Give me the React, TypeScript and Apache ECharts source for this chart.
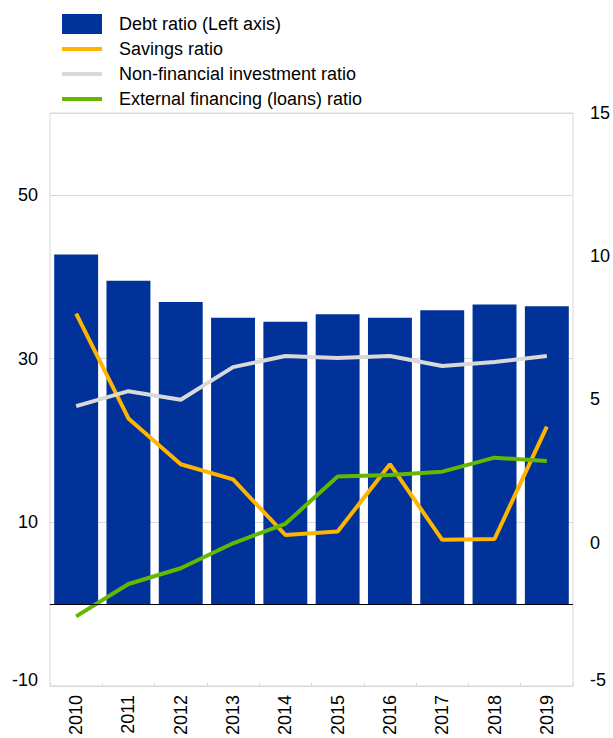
import React, { useEffect, useRef } from "react";
import * as echarts from "echarts";

const years = ["2010", "2011", "2012", "2013", "2014", "2015", "2016", "2017", "2018", "2019"];
const debtRatio = [42.7, 39.5, 36.9, 35.0, 34.5, 35.4, 35.0, 35.9, 36.6, 36.4];
const savingsRatio = [8.0, 4.34, 2.74, 2.21, 0.27, 0.39, 2.74, 0.1, 0.13, 4.05];
const investmentRatio = [4.77, 5.29, 4.99, 6.13, 6.52, 6.45, 6.52, 6.17, 6.31, 6.52];
const externalFinancing = [-2.57, -1.44, -0.89, -0.02, 0.66, 2.31, 2.36, 2.48, 2.97, 2.85];

const FONT = "'Liberation Sans', Arial, sans-serif";
const BLUE = "#003299";
const ORANGE = "#ffb400";
const GREY = "#d9d9d9";
const GREEN = "#65b800";

export default function App() {
  const ref = useRef<HTMLDivElement>(null);
  useEffect(() => {
    document.body.style.margin = "0";
    if (!ref.current) return;
    const chart = echarts.init(ref.current, undefined, { renderer: "svg" });
    const textStyle = { fontFamily: FONT, fontSize: 18, color: "#000", lineHeight: 25, padding: [0, 0, 0, 12] };
    const lowRich = { lo: { fontFamily: FONT, fontSize: 18, color: "#000", padding: [0, 0, 12, 0] } };
    chart.setOption({
      animation: false,
      textStyle: { fontFamily: FONT },
      legend: [
        {
          data: [{ name: "Debt ratio (Left axis)", icon: "rect" }],
          left: 62,
          top: 11.5,
          padding: 0,
          itemWidth: 40,
          itemHeight: 20,
          textStyle,
          selectedMode: false,
        },
        {
          data: [
            { name: "Savings ratio", icon: "rect" },
            { name: "Non-financial investment ratio", icon: "rect" },
            { name: "External financing (loans) ratio", icon: "rect" },
          ],
          orient: "vertical",
          left: 62,
          top: 36.5,
          padding: 0,
          itemGap: 0,
          itemWidth: 40,
          itemHeight: 4,
          textStyle,
          selectedMode: false,
        },
      ],
      grid: {
        left: 50,
        right: 35,
        top: 113,
        bottom: 49,
        show: true,
        borderColor: GREY,
        borderWidth: 1,
        containLabel: false,
      },
      xAxis: {
        type: "category",
        data: years,
        position: "bottom",
        axisLine: { onZero: false, lineStyle: { color: GREY } },
        axisTick: { show: true, inside: true, length: 3, lineStyle: { color: GREY } },
        axisLabel: { rotate: 90, margin: 9, fontSize: 18, color: "#000", fontFamily: FONT, interval: 0 },
      },
      yAxis: [
        {
          type: "value",
          min: -10,
          max: 60,
          interval: 20,
          axisLine: { show: false },
          axisTick: { show: false },
          axisLabel: {
            fontSize: 18,
            color: "#000",
            fontFamily: FONT,
            margin: 12,
            showMaxLabel: false,
            formatter: (v: number) => (v === -10 ? "{lo|-10}" : String(v)),
            rich: lowRich,
          },
          splitLine: { show: true, lineStyle: { color: GREY, width: 1 } },
        },
        {
          type: "value",
          min: -5,
          max: 15,
          interval: 5,
          position: "right",
          axisLine: { show: false },
          axisTick: { show: false },
          axisLabel: {
            fontSize: 18,
            color: "#000",
            fontFamily: FONT,
            margin: 17,
            align: "left",
            formatter: (v: number) => (v === -5 ? "{lo|-5}" : String(v)),
            rich: lowRich,
          },
          splitLine: { show: false },
        },
      ],
      series: [
        {
          name: "Debt ratio (Left axis)",
          type: "bar",
          data: debtRatio,
          yAxisIndex: 0,
          barCategoryGap: "16%",
          itemStyle: { color: BLUE },
          markLine: {
            silent: true,
            symbol: "none",
            label: { show: false },
            lineStyle: { color: "#000", width: 1, type: "solid" },
            data: [{ yAxis: 0 }],
          },
        },
        {
          name: "Savings ratio",
          type: "line",
          yAxisIndex: 1,
          data: savingsRatio,
          symbol: "none",
          lineStyle: { color: ORANGE, width: 4 },
          itemStyle: { color: ORANGE },
          z: 3,
        },
        {
          name: "Non-financial investment ratio",
          type: "line",
          yAxisIndex: 1,
          data: investmentRatio,
          symbol: "none",
          lineStyle: { color: GREY, width: 4 },
          itemStyle: { color: GREY },
          z: 3,
        },
        {
          name: "External financing (loans) ratio",
          type: "line",
          yAxisIndex: 1,
          data: externalFinancing,
          symbol: "none",
          lineStyle: { color: GREEN, width: 4 },
          itemStyle: { color: GREEN },
          z: 3,
        },
      ],
    });
    return () => chart.dispose();
  }, []);
  return <div ref={ref} style={{ width: 613, height: 738 }} />;
}
